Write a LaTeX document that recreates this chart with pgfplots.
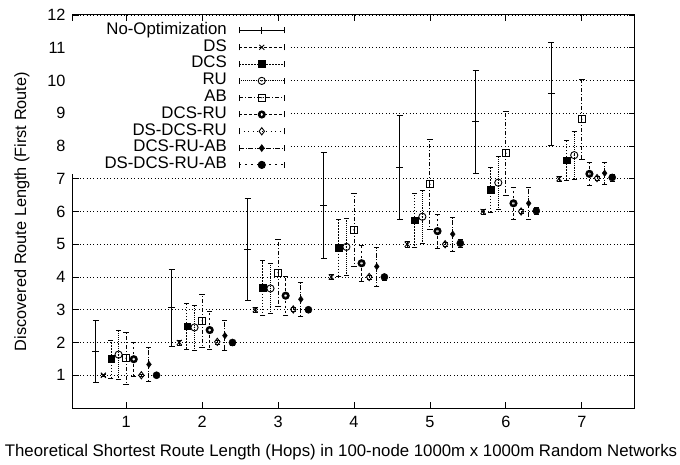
\documentclass[border=0pt]{standalone}
\usepackage{fontspec}
\setmainfont{Liberation Sans}
\usepackage{pgfplots}
\pgfplotsset{compat=1.18}
\pgfdeclareplotmark{odot}{\pgfpathcircle{\pgfpointorigin}{\pgfplotmarksize}\pgfusepathqstroke\pgfpathcircle{\pgfpointorigin}{0.7pt}\pgfusepathqfill}
\pgfdeclareplotmark{sqdot}{\pgfpathrectangle{\pgfpoint{-\pgfplotmarksize}{-\pgfplotmarksize}}{\pgfpoint{2\pgfplotmarksize}{2\pgfplotmarksize}}\pgfusepathqstroke\pgfpathcircle{\pgfpointorigin}{0.7pt}\pgfusepathqfill}
\pgfdeclareplotmark{ring}{\pgfsetlinewidth{2.6pt}\pgfpathcircle{\pgfpointorigin}{\pgfplotmarksize}\pgfusepathqstroke\pgfsetfillcolor{white}\pgfpathellipse{\pgfpoint{-0.4pt}{0pt}}{\pgfpoint{0.7pt}{0pt}}{\pgfpoint{0pt}{1.6pt}}\pgfusepathqfill}
\newcommand{\fnt}{\fontsize{16.3}{18}\selectfont}
\newcommand{\legimg}[2]{\addlegendimage{legend image code/.code={%
  \draw[black,line width=0.9pt,#1] (0pt,0pt) -- (45pt,0pt);
  \draw[black,line width=0.9pt] (0pt,-3pt) -- (0pt,3pt) (45pt,-3pt) -- (45pt,3pt);
  \draw[black,fill=black,solid,line width=0.9pt] plot[#2] coordinates {(22.5pt,0pt)};
}}}
\begin{document}
\begin{tikzpicture}
\begin{axis}[
  scale only axis, width=562pt, height=393pt,
  at={(0,0)}, anchor=south west,
  xmin=0.3, xmax=7.7, ymin=0, ymax=12,
  xtick={1,2,3,4,5,6,7}, ytick={1,2,3,4,5,6,7,8,9,10,11,12},
  tick align=inside, major tick length=6pt,
  every tick/.style={black, line width=0.8pt},
  axis line style={line width=1pt},
  ymajorgrids, major grid style={black, line width=0.8pt, dash pattern=on 0.8pt off 2.6pt},
  /pgf/number format/assume math mode=true,
  tick label style={font=\fnt},
  yticklabel style={xshift=-4pt},
  xticklabel style={yshift=-5pt},
  label style={font=\fnt},
  xlabel={Theoretical Shortest Route Length (Hops) in 100-node 1000m x 1000m Random Networks},
  ylabel={Discovered Route Length (First Route)},
  xlabel style={font=\fontsize{16.8}{18}\selectfont, at={(axis description cs:0.477,-0.112)}, anchor=center},
  ylabel style={at={(axis description cs:-0.091,0.5)}, anchor=center},
  legend plot pos=right,
  legend cell align=right,
  legend style={font=\fontsize{16.8}{18}\selectfont, at={(axis description cs:0.386,0.985)}, anchor=north east,
    draw=none, fill=white, inner xsep=5pt, inner ysep=1pt, column sep=12pt, row sep=0pt,
    nodes={inner sep=0pt, text height=12.2pt, text depth=4.6pt, text width=150pt, align=right}},
  error bars/error bar style={line width=0.9pt},
]
\legimg{solid}{mark=+, mark size=3.5pt}\addlegendentry{No-Optimization}
\legimg{dash pattern=on 3pt off 2pt}{mark=x, mark size=3.5pt}\addlegendentry{DS}
\legimg{dash pattern=on 1.5pt off 1.5pt}{mark=square*, mark size=3.2pt}\addlegendentry{DCS}
\legimg{dash pattern=on 0.7pt off 1.2pt}{mark=odot, mark size=3.6pt}\addlegendentry{RU}
\legimg{dash pattern=on 4pt off 2pt on 1pt off 2pt}{mark=sqdot, mark size=3.6pt}\addlegendentry{AB}
\legimg{dash pattern=on 2.5pt off 2.5pt}{mark=ring, mark size=2.7pt}\addlegendentry{DCS-RU}
\legimg{dash pattern=on 1pt off 3.5pt}{mark=diamond, mark size=3.6pt, fill=white}\addlegendentry{DS-DCS-RU}
\legimg{dash pattern=on 5pt off 1.5pt on 1pt off 1.5pt}{mark=diamond*, mark size=3.2pt}\addlegendentry{DCS-RU-AB}
\legimg{dash pattern=on 2pt off 4pt}{mark=*, mark size=3.6pt}\addlegendentry{DS-DCS-RU-AB}

% No-Optimization
\addplot[forget plot, only marks, black, mark=+, mark size=3.5pt, mark options={line width=0.9pt},
  error bars/.cd, y dir=both, y explicit, error bar style={solid}, error mark options={rotate=90, mark size=3pt, solid}]
  table[x=x, y=y, y error=e] {
x y e
0.6 1.74 0.94
1.6 3.07 1.17
2.6 4.85 1.56
3.6 6.19 1.61
4.6 7.35 1.59
5.6 8.74 1.58
6.6 9.59 1.57
};
% DS
\addplot[forget plot, only marks, black, mark=x, mark size=3.5pt, mark options={line width=0.9pt},
  error bars/.cd, y dir=both, y explicit, error bar style={dash pattern=on 3pt off 2pt}, error mark options={rotate=90, mark size=2.5pt, solid}]
  table[x=x, y=y, y error=e] {
x y e
0.7 1.0 0.02
1.7 2.0 0.08
2.7 3.0 0.08
3.7 4.0 0.08
4.7 5.0 0.08
5.7 6.0 0.08
6.7 7.0 0.08
};
% DCS
\addplot[forget plot, only marks, black, mark=square*, mark size=3.2pt, mark options={fill=black},
  error bars/.cd, y dir=both, y explicit, error bar style={dash pattern=on 1.5pt off 1.5pt}, error mark options={rotate=90, mark size=2.5pt, solid}]
  table[x=x, y=y, y error=e] {
x y e
0.8 1.50 0.58
1.8 2.50 0.71
2.8 3.67 0.83
3.8 4.90 0.87
4.8 5.74 0.82
5.8 6.66 0.69
6.8 7.57 0.62
};
% RU
\addplot[forget plot, only marks, black, mark=odot, mark size=3.6pt, mark options={line width=0.9pt, fill=black},
  error bars/.cd, y dir=both, y explicit, error bar style={dash pattern=on 0.7pt off 1.2pt}, error mark options={rotate=90, mark size=2.5pt, solid}]
  table[x=x, y=y, y error=e] {
x y e
0.9 1.63 0.76
1.9 2.46 0.68
2.9 3.65 0.77
3.9 4.92 0.88
4.9 5.84 0.80
5.9 6.88 0.80
6.9 7.72 0.72
};
% AB
\addplot[forget plot, only marks, black, mark=sqdot, mark size=3.6pt, mark options={line width=0.9pt, fill=black},
  error bars/.cd, y dir=both, y explicit, error bar style={dash pattern=on 4pt off 2pt on 1pt off 2pt}, error mark options={rotate=90, mark size=3pt, solid}]
  table[x=x, y=y, y error=e] {
x y e
1 1.52 0.80
2 2.66 0.80
3 4.13 1.03
4 5.44 1.12
5 6.83 1.37
6 7.78 1.29
7 8.82 1.22
};
% DCS-RU
\addplot[forget plot, only marks, black, mark=ring, mark size=2.7pt,
  error bars/.cd, y dir=both, y explicit, error bar style={dash pattern=on 2.5pt off 2.5pt}, error mark options={rotate=90, mark size=2.5pt, solid}]
  table[x=x, y=y, y error=e] {
x y e
1.1 1.49 0.53
2.1 2.38 0.58
3.1 3.43 0.60
4.1 4.42 0.56
5.1 5.40 0.53
6.1 6.25 0.50
7.1 7.15 0.36
};
% DS-DCS-RU
\addplot[forget plot, only marks, black, mark=diamond, mark size=3.6pt, mark options={line width=0.9pt, fill=white},
  error bars/.cd, y dir=both, y explicit, error bar style={dash pattern=on 1pt off 3.5pt}, error mark options={rotate=90, mark size=2.5pt, solid}]
  table[x=x, y=y, y error=e] {
x y e
1.2 1.00 0.02
2.2 2.02 0.06
3.2 3.01 0.06
4.2 4.00 0.06
5.2 5.00 0.06
6.2 6.00 0.06
7.2 7.02 0.06
};
% DCS-RU-AB
\addplot[forget plot, only marks, black, mark=diamond*, mark size=3.2pt, mark options={fill=black},
  error bars/.cd, y dir=both, y explicit, error bar style={dash pattern=on 5pt off 1.5pt on 1pt off 1.5pt}, error mark options={rotate=90, mark size=2.5pt, solid}]
  table[x=x, y=y, y error=e] {
x y e
1.3 1.33 0.52
2.3 2.21 0.46
3.3 3.32 0.52
4.3 4.32 0.59
5.3 5.31 0.53
6.3 6.25 0.49
7.3 7.17 0.33
};
% DS-DCS-RU-AB
\addplot[forget plot, only marks, black, mark=*, mark size=3.6pt, mark options={fill=black},
  error bars/.cd, y dir=both, y explicit, error bar style={dash pattern=on 2pt off 4pt}, error mark options={rotate=90, mark size=2.5pt, solid}]
  table[x=x, y=y, y error=e] {
x y e
1.4 1.00 0.02
2.4 2.00 0.08
3.4 3.00 0.08
4.4 4.00 0.10
5.4 5.03 0.12
6.4 6.02 0.10
7.4 7.04 0.10
};
\end{axis}
\pgfresetboundingbox
\useasboundingbox (-73pt,-56pt) rectangle (607pt,408pt);
\end{tikzpicture}
\end{document}
